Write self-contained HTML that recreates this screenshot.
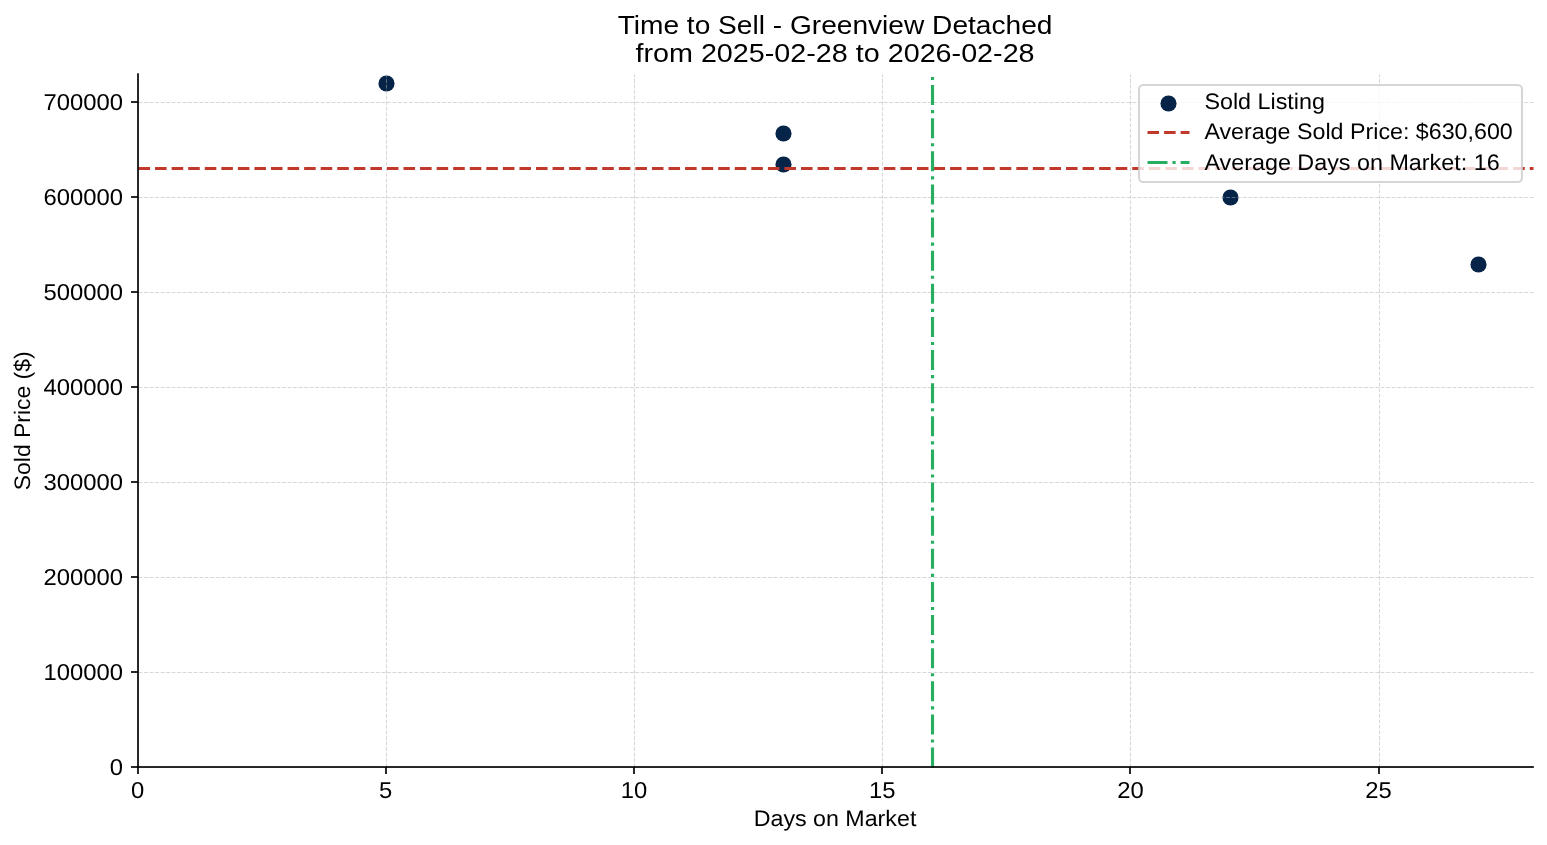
<!DOCTYPE html><html><head><meta charset="utf-8"><title>Time to Sell - Greenview Detached</title><style>html,body{margin:0;padding:0;background:#fff;}svg{display:block;will-change:transform;}text{font-family:"Liberation Sans",sans-serif;fill:#000;}.gp{text-rendering:geometricPrecision;}</style></head><body>
<svg width="1547" height="845" viewBox="0 0 1547 845">
<rect x="0" y="0" width="1547" height="845" fill="#fff"/>
<circle cx="386.5" cy="83.5" r="8.069" fill="#052447"/>
<circle cx="783.5" cy="133.5" r="8.069" fill="#052447"/>
<circle cx="783.5" cy="164.5" r="8.069" fill="#052447"/>
<circle cx="1230.5" cy="197.5" r="8.069" fill="#052447"/>
<circle cx="1478.5" cy="264.5" r="8.069" fill="#052447"/>
<g stroke="#b0b0b0" stroke-opacity="0.5" stroke-width="1.0417" stroke-dasharray="3.8542 1.6667" fill="none">
<path d="M138.5 767.5V74.5"/>
<path d="M386.5 767.5V74.5"/>
<path d="M634.5 767.5V74.5"/>
<path d="M882.5 767.5V74.5"/>
<path d="M1130.5 767.5V74.5"/>
<path d="M1379.5 767.5V74.5"/>
<path d="M138.5 767.5H1533.5"/>
<path d="M138.5 672.5H1533.5"/>
<path d="M138.5 577.5H1533.5"/>
<path d="M138.5 482.5H1533.5"/>
<path d="M138.5 387.5H1533.5"/>
<path d="M138.5 292.5H1533.5"/>
<path d="M138.5 197.5H1533.5"/>
<path d="M138.5 102.5H1533.5"/>
</g>
<g stroke="#000" stroke-width="1.6667" fill="none">
<path d="M138.0 767V774"/>
<path d="M386.0 767V774"/>
<path d="M634.0 767V774"/>
<path d="M882.0 767V774"/>
<path d="M1130.0 767V774"/>
<path d="M1379.0 767V774"/>
</g>
<g fill="#000" fill-opacity="0.835">
<rect x="131" y="766.0" width="7" height="2"/>
<rect x="131" y="671.0" width="7" height="2"/>
<rect x="131" y="576.0" width="7" height="2"/>
<rect x="131" y="481.0" width="7" height="2"/>
<rect x="131" y="386.0" width="7" height="2"/>
<rect x="131" y="291.0" width="7" height="2"/>
<rect x="131" y="196.0" width="7" height="2"/>
<rect x="131" y="101.0" width="7" height="2"/>
</g>
<text x="130.91" y="797.88" font-size="23.0" textLength="13.25" lengthAdjust="spacingAndGlyphs" text-anchor="start" class="gp">0</text>
<text x="379.14" y="797.88" font-size="23.0" textLength="13.25" lengthAdjust="spacingAndGlyphs" text-anchor="start" class="gp">5</text>
<text x="620.73" y="797.88" font-size="23.0" textLength="26.50" lengthAdjust="spacingAndGlyphs" text-anchor="start" class="gp">10</text>
<text x="868.95" y="797.88" font-size="23.0" textLength="26.50" lengthAdjust="spacingAndGlyphs" text-anchor="start" class="gp">15</text>
<text x="1117.17" y="797.88" font-size="23.0" textLength="26.50" lengthAdjust="spacingAndGlyphs" text-anchor="start" class="gp">20</text>
<text x="1365.39" y="797.88" font-size="23.0" textLength="26.50" lengthAdjust="spacingAndGlyphs" text-anchor="start" class="gp">25</text>
<text x="109.71" y="775.30" font-size="23.0" textLength="13.25" lengthAdjust="spacingAndGlyphs" text-anchor="start" class="gp">0</text>
<text x="43.46" y="680.30" font-size="23.0" textLength="79.50" lengthAdjust="spacingAndGlyphs" text-anchor="start" class="gp">100000</text>
<text x="43.46" y="585.31" font-size="23.0" textLength="79.50" lengthAdjust="spacingAndGlyphs" text-anchor="start" class="gp">200000</text>
<text x="43.46" y="490.31" font-size="23.0" textLength="79.50" lengthAdjust="spacingAndGlyphs" text-anchor="start" class="gp">300000</text>
<text x="43.46" y="395.31" font-size="23.0" textLength="79.50" lengthAdjust="spacingAndGlyphs" text-anchor="start" class="gp">400000</text>
<text x="43.46" y="300.32" font-size="23.0" textLength="79.50" lengthAdjust="spacingAndGlyphs" text-anchor="start" class="gp">500000</text>
<text x="43.46" y="205.32" font-size="23.0" textLength="79.50" lengthAdjust="spacingAndGlyphs" text-anchor="start" class="gp">600000</text>
<text x="43.46" y="110.32" font-size="23.0" textLength="79.50" lengthAdjust="spacingAndGlyphs" text-anchor="start" class="gp">700000</text>
<path d="M138.5 168.5H1533.5" stroke="#c0392b" stroke-width="3.1250" stroke-dasharray="11.5625 5.0000" fill="none"/>
<path d="M932.5 767.5V74.5" stroke="#27ae60" stroke-width="3.1250" stroke-dasharray="20.0000 5.0000 3.1250 5.0000" fill="none"/>
<path d="M138.0 767.0V74.0" stroke="#000" stroke-width="1.6667" stroke-linecap="square" fill="none"/>
<rect x="137.167" y="766.0" width="1396.667" height="2" fill="#000" fill-opacity="0.835"/>
<rect x="1139.0" y="85.0" width="383.0" height="97.0" rx="4.167" ry="4.167" fill="#fff" fill-opacity="0.8" stroke="#ccc" stroke-opacity="0.8" stroke-width="2.0833"/>
<circle cx="1168.5" cy="103.5" r="8.069" fill="#052447"/>
<path d="M1147.5 132.5H1189.5" stroke="#c0392b" stroke-width="3.1250" stroke-dasharray="11.5625 5.0000" fill="none"/>
<path d="M1147.5 162.5H1189.5" stroke="#27ae60" stroke-width="3.1250" stroke-dasharray="20.0000 5.0000 3.1250 5.0000" fill="none"/>
<text x="1204.42" y="109.05" font-size="22.4" textLength="120.50" lengthAdjust="spacingAndGlyphs" text-anchor="start" class="gp">Sold Listing</text>
<text x="1204.42" y="139.47" font-size="22.4" textLength="308.38" lengthAdjust="spacingAndGlyphs" text-anchor="start" class="gp">Average Sold Price: $630,600</text>
<text x="1204.42" y="169.88" font-size="22.4" textLength="295.25" lengthAdjust="spacingAndGlyphs" text-anchor="start" class="gp">Average Days on Market: 16</text>
<text x="835.04" y="34.00" font-size="26.2" textLength="434.75" lengthAdjust="spacingAndGlyphs" text-anchor="middle">Time to Sell - Greenview Detached</text>
<text x="835.04" y="62.00" font-size="26.2" textLength="399.12" lengthAdjust="spacingAndGlyphs" text-anchor="middle">from 2025-02-28 to 2026-02-28</text>
<text x="835.04" y="826.22" font-size="22.4" textLength="162.62" lengthAdjust="spacingAndGlyphs" text-anchor="middle" class="gp">Days on Market</text>
<text class="gp" x="0" y="0" font-size="22.4" textLength="138.88" lengthAdjust="spacingAndGlyphs" text-anchor="middle" transform="translate(29.50 420.80) rotate(-90)">Sold Price ($)</text>
</svg></body></html>
